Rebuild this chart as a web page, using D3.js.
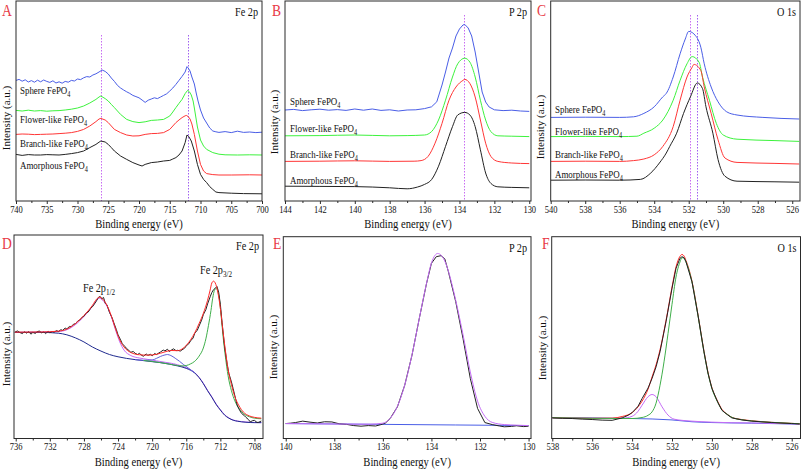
<!DOCTYPE html>
<html><head><meta charset="utf-8">
<script src="https://cdn.jsdelivr.net/npm/d3@7"></script>
<style>
body{margin:0;background:#fff}
svg{display:block}
</style>
</head><body>
<svg id="c" width="803" height="469"></svg>
<script>
// ---------------- DATA ----------------
const sampleNames = ["Sphere FePO", "Flower-like FePO", "Branch-like FePO", "Amorphous FePO"];
const panelTitles = ["Fe 2p", "P 2p", "O 1s", "Fe 2p", "P 2p", "O 1s"];
const panelLetters = ["A", "B", "C", "D", "E", "F"];
const xTitle = "Binding energy (eV)";
const yTitle = "Intensity (a.u.)";

const aTicks = [740,735,730,725,720,715,710,705,700];
const bTicks = [144,142,140,138,136,134,132,130];
const cTicks = [540,538,536,534,532,530,528,526];
const dTicks = [736,732,728,724,720,716,712,708];
const eTicks = [140,138,136,134,132,130];
const fTicks = [538,536,534,532,530,528,526];

const aRefLines = [726.1, 712.1];
const bRefLines = [133.73];
const cRefLines = [531.93, 531.5];

// Panel A – Fe 2p (stacked)
const aSphere = [[740,60.3],[739.5,60.8],[739,59.9],[738.5,60.6],[738,59.5],[737.5,60.2],[737,59.4],[736.5,60.4],[736,59.6],[735.5,60.5],[735,59.8],[734.5,59.3],[734,60.1],[733.5,59.0],[733,59.6],[732.5,58.9],[732,59.8],[731.5,59.4],[731,60.3],[730.5,60.0],[730,61.0],[729.5,60.7],[729,61.6],[728.5,62.2],[728,62.0],[727.5,63.0],[727,63.6],[726.5,64.5],[726,65.5],[725.5,64.8],[725,63.5],[724.5,61.5],[724,59.8],[723.5,57.8],[723,56.5],[722.5,55.5],[722,54.6],[721.5,53.8],[721,52.8],[720.5,52.2],[720,51.6],[719.5,50.5],[719,49.3],[718.5,50.4],[718,51.0],[717.5,51.6],[717,51.2],[716.5,52.0],[716,52.8],[715.5,53.6],[715,55.0],[714.5,56.5],[714,58.3],[713.5,60.3],[713,62.3],[712.5,64.5],[712.2,67.2],[712,66.5],[711.7,65.0],[711.4,62.0],[711,58.5],[710.7,54.0],[710.4,50.0],[710,45.5],[709.5,41.5],[709,39.0],[708.5,36.5],[708,35.0],[707.5,34.6],[707,34.3],[706,34.7],[705,34.2],[704,34.9],[703,34.3],[702,34.5],[701,34.2],[700,34.4]];
const aFlower = [[740,45.3],[739,45.0],[738,45.4],[737,45.0],[736,45.2],[735,44.9],[734,45.1],[733,45.2],[732,45.5],[731,45.9],[730,46.5],[729,47.5],[728,49.0],[727,50.8],[726.5,52.0],[726.2,52.5],[725.5,51.2],[725,50.0],[724.5,48.3],[724,46.7],[723,43.3],[722,40.8],[721,39.7],[720,39.2],[719,39.6],[718,40.3],[717,40.5],[716,40.8],[715,42.5],[714.5,44.5],[714,46.7],[713.5,48.8],[713,50.8],[712.5,53.7],[712.1,55.3],[711.8,54.6],[711.5,53.0],[711.2,50.0],[711,46.5],[710.5,37.0],[710,30.5],[709.5,27.5],[709,25.8],[708,24.2],[707,23.4],[706,23.1],[704,23.0],[702,23.1],[700,23.0]];
const aBranch = [[740,33.3],[739,33.5],[738,33.4],[737,33.2],[736,33.3],[735,33.4],[734,33.5],[733,33.7],[732,33.9],[731,34.2],[730,34.8],[729,35.8],[728,37.5],[727,39.7],[726.5,41.0],[726.2,41.3],[725.5,40.5],[725,39.2],[724.5,37.5],[724,35.8],[723,34.2],[722,33.0],[721,32.5],[720,32.6],[719,33.3],[718,33.7],[717,33.8],[716,34.2],[715,35.8],[714.5,37.5],[714,39.2],[713.5,40.5],[713,41.7],[712.5,42.6],[712.3,42.8],[712,42.2],[711.7,41.0],[711.4,38.5],[711,33.3],[710.5,25.0],[710,18.3],[709.5,15.0],[709,13.7],[708,13.2],[707,13.0],[705,13.0],[702,13.1],[700,13.0]];
const aAmorph = [[740,23.3],[739,22.8],[738,23.2],[737,23.0],[736,23.0],[735,23.2],[734,23.1],[733,23.0],[732,23.3],[731,23.7],[730,24.2],[729,25.0],[728,26.7],[727,28.3],[726.5,29.4],[726.2,30.0],[725.5,29.5],[725,28.3],[724.5,26.7],[724,25.0],[723,22.5],[722,20.8],[721,19.2],[720,18.0],[719.5,17.5],[719,18.3],[718,19.2],[717,19.5],[716,20.0],[715,20.3],[714.5,21.0],[714,21.7],[713.5,23.0],[713,25.0],[712.5,29.2],[712.2,33.0],[711.9,32.2],[711.5,30.0],[711,25.0],[710.5,18.3],[710,13.3],[709.5,10.8],[709,9.2],[708.5,7.2],[708,5.8],[707.5,4.5],[707,4.2],[705,3.9],[703,3.7],[700,3.6]];

// Panel B – P 2p (stacked)
const bSphere = [[144,45.5],[143.5,45.8],[143,45.2],[142.5,45.6],[142,45.9],[141.5,45.4],[141,45.7],[140.5,45.3],[140,46.0],[139.5,45.4],[139,46.0],[138.5,45.3],[138,45.6],[137.5,45.0],[137,45.5],[136.5,45.6],[136,46.2],[135.6,47.1],[135.3,49.6],[135.0,58.0],[134.8,64.5],[134.6,71.5],[134.4,76.5],[134.2,82.5],[134.0,86.0],[133.8,88.0],[133.7,88.3],[133.5,86.5],[133.3,82.5],[133.1,74.5],[132.9,64.5],[132.7,54.5],[132.5,49.5],[132.3,47.0],[132.0,45.6],[131.5,45.2],[131,45.4],[130.5,45.0],[130,44.8]];
const bFlower = [[144,32.6],[142,32.7],[140,33.0],[138,32.6],[137,32.7],[136,33.0],[135.6,34.7],[135.2,40.5],[134.8,50.4],[134.4,62.0],[134.1,68.6],[133.7,71.4],[133.4,69.4],[133.1,62.0],[132.8,50.4],[132.5,40.5],[132.2,34.7],[131.8,32.6],[131,32.4],[130,32.2]];
const bBranch = [[144,19.8],[142,19.9],[140,20.1],[138,19.8],[136.6,19.9],[136.2,20.2],[135.8,22.3],[135.4,28.9],[135.0,38.8],[134.6,50.4],[134.2,57.0],[133.8,60.3],[133.7,60.8],[133.4,58.7],[133.1,52.0],[132.8,40.5],[132.5,28.9],[132.2,22.3],[131.8,19.8],[131,19.0],[130,18.7]];
const bAmorph = [[144,7.4],[142,7.3],[140,7.2],[138,6.6],[137,6.1],[136.4,7.0],[136,8.3],[135.6,10.7],[135.2,17.4],[134.8,27.3],[134.4,37.2],[134.1,43.0],[133.7,44.3],[133.4,43.0],[133.1,37.2],[132.8,25.6],[132.5,14.0],[132.2,8.8],[131.8,7.1],[131,6.8],[130,6.6]];

// Panel C – O 1s (stacked)
const cSphere = [[540,41.8],[538,41.9],[536,41.8],[535.2,42.1],[534.6,43.8],[534.0,47.1],[533.5,52.1],[533.3,53.8],[532.9,62.0],[532.5,73.6],[532.2,81.0],[532.0,84.8],[531.6,82.6],[531.3,76.9],[531.1,68.6],[530.7,57.0],[530.3,49.6],[529.8,44.6],[529.2,43.0],[527.7,41.8],[525.6,41.0]];
const cFlower = [[540,32.2],[538,32.3],[536,32.2],[535,32.4],[534.6,33.9],[534.0,36.4],[533.5,40.5],[532.9,50.4],[532.5,60.3],[532.1,68.6],[531.8,72.2],[531.4,69.4],[531.2,62.0],[530.8,50.4],[530.4,38.8],[530.0,33.0],[529.2,30.9],[527,30.2],[525.6,29.8]];
const cBranch = [[540,19.8],[538,19.9],[536,19.8],[535.2,20.2],[534.6,21.0],[534.0,23.1],[533.5,27.3],[532.9,37.2],[532.5,50.4],[532.1,62.0],[531.8,66.9],[531.7,68.3],[531.3,65.3],[531.1,57.0],[530.7,43.8],[530.3,30.6],[529.9,21.5],[529.2,19.3],[527,18.8],[525.6,18.5]];
const cAmorph = [[540,10.4],[538,10.5],[536,10.4],[534.8,10.8],[534.2,14.0],[533.7,19.0],[533.3,24.0],[533.1,27.3],[532.7,33.9],[532.3,43.8],[531.9,52.1],[531.5,59.0],[531.2,56.2],[531.0,47.1],[530.6,33.9],[530.3,20.7],[529.9,12.4],[529.2,9.9],[527,9.6],[525.6,9.4]];

// Panel D – Fe 2p fitting
const dRaw = [[736.1,52.3],[735.8,52.9],[735.5,52.1],[735.2,51.6],[735,52.5],[734.7,51.8],[734.5,52.6],[734.2,51.3],[734,52.2],[733.7,51.7],[733.5,52.5],[733.2,52.9],[733,51.9],[732.7,52.4],[732.5,51.6],[732.2,52.7],[732,52.0],[731.7,52.6],[731.5,52.3],[731.2,53.1],[731,52.6],[730.7,53.5],[730.5,53.2],[730.2,54.3],[730,53.9],[729.7,55.1],[729.5,55.0],[729.2,56.3],[729,56.4],[728.7,57.9],[728.5,58.2],[728.2,59.7],[728,60.1],[727.7,61.9],[727.5,62.2],[727.2,64.1],[727,64.8],[726.7,66.6],[726.5,67.9],[726.3,69.4],[726.1,69.9],[725.9,68.7],[725.7,69.4],[725.5,66.5],[725.3,65.8],[725,62.0],[724.7,59.4],[724.5,57.0],[724.2,53.6],[724,51.0],[723.7,48.5],[723.5,46.6],[723.2,45.3],[723,44.3],[722.7,43.2],[722.5,42.4],[722.2,42.8],[722,41.9],[721.7,41.3],[721.5,41.9],[721.2,40.8],[721,40.5],[720.7,41.6],[720.5,40.9],[720.2,41.4],[720,40.7],[719.7,41.8],[719.5,41.3],[719.2,42.1],[719,42.6],[718.7,43.5],[718.5,43.1],[718.2,43.9],[718,42.8],[717.7,43.6],[717.5,44.1],[717.2,43.2],[717,43.4],[716.7,43.0],[716.5,43.6],[716.2,44.4],[716,45.6],[715.7,46.6],[715.5,48.0],[715.2,49.4],[715,51.8],[714.7,53.3],[714.5,55.3],[714.2,58.2],[714,60.9],[713.7,63.4],[713.5,66.2],[713.2,69.7],[713,71.8],[712.8,73.2],[712.6,73.9],[712.4,74.8],[712.2,72.0],[712,66.0],[711.8,57.0],[711.5,45.0],[711.2,36.5],[711,32.0],[710.7,27.8],[710.5,24.5],[710.2,19.3],[710,16.0],[709.7,13.6],[709.5,12.3],[709.2,11.3],[709,10.4],[708.7,9.3],[708.5,8.2],[708.2,8.8],[708,8.9],[707.7,7.9],[707.5,8.0],[707.2,8.6]];
const dEnvelope = [[736.1,52.3],[733,52.4],[731,52.8],[730,53.8],[729,56.5],[728,60.5],[727,65.5],[726.5,68.6],[726.2,69.5],[725.8,68.6],[725.3,65.5],[724.8,60.5],[724.3,54.0],[723.8,48.5],[723.3,45.0],[722.5,42.3],[721.5,41.2],[720.5,41.0],[719.5,41.4],[718.5,42.6],[717.8,43.3],[717,43.2],[716.5,44.0],[716,45.8],[715.5,48.5],[715,52.0],[714.5,56.5],[714,61.5],[713.5,68.0],[713.2,73.0],[713.0,76.5],[712.8,77.4],[712.6,76.5],[712.3,72.0],[712.0,64.0],[711.7,53.0],[711.4,43.0],[711.1,34.0],[710.7,26.5],[710.3,20.5],[709.8,16.0],[709.3,13.0],[708.6,11.1],[708,10.4],[707.2,10.0]];
const dPeak12 = [[736.1,52.2],[731,52.6],[730,53.5],[729,56.0],[728,60.0],[727,65.0],[726.5,68.0],[726.2,69.0],[725.8,68.0],[725.3,65.0],[724.8,60.0],[724.3,53.5],[723.8,47.5],[723.3,43.5],[722.5,40.8],[721.5,39.6],[720.5,38.9],[719.5,38.2],[718.5,37.5],[717.5,36.8],[716.5,35.6],[715.5,33.8],[715,32.4],[714.5,30.1],[714,27.2],[713.5,23.7],[713,20.5],[712.5,17.0],[712,14.2],[711.5,11.7],[711,10.1],[710.5,9.1],[710,8.6],[709,8.1],[707.2,7.8]];
const dPeak32 = [[721,38.4],[720,37.9],[719,37.3],[718,36.6],[717,35.9],[716.5,35.7],[716,35.9],[715.5,36.7],[715,38.0],[714.5,40.5],[714,44.5],[713.7,49.0],[713.4,55.5],[713.1,63.0],[712.9,69.0],[712.7,72.8],[712.5,73.8],[712.3,72.5],[712.1,68.0],[711.9,60.0],[711.7,51.0],[711.4,40.0],[711.1,31.0],[710.7,23.5],[710.3,18.5],[709.8,14.8],[709.3,12.3],[708.6,10.7],[708,10.0],[707.2,9.7]];
const dSatellite = [[722,38.8],[721,38.5],[720,38.6],[719.5,39.4],[719,40.4],[718.5,41.1],[718.2,41.3],[717.8,40.8],[717.3,39.5],[716.8,38.0],[716.3,36.3],[715.8,34.8],[715.3,33.2],[715,32.3]];
const dBackground = [[736.1,52.2],[733,52.2],[731,51.8],[730,51.0],[729,49.5],[728,47.5],[727,45.0],[726,43.0],[725,41.3],[724,40.2],[723,39.4],[722,38.8],[721,38.3],[720,37.8],[719,37.3],[718,36.6],[717,35.7],[716,34.5],[715,32.2],[714.5,30.0],[714,27.0],[713.5,23.5],[713,20.3],[712.5,16.8],[712,14.0],[711.5,11.5],[711,10.0],[710.5,9.0],[710,8.5],[709,8.0],[708,7.8],[707.2,7.8]];

// Panel E – P 2p fitting
const eRaw = [[140,7.4],[139.8,7.6],[139.6,7.9],[139.3,8.6],[139,8.1],[138.7,7.7],[138.4,8.3],[138.1,8.2],[137.8,7.3],[137.5,7.0],[137.2,6.4],[136.9,6.1],[136.6,6.4],[136.3,6.2],[136.1,6.8],[135.9,7.6],[135.7,9.9],[135.4,15.7],[135.1,26.4],[134.8,41.3],[134.5,59.5],[134.2,76.9],[134.0,86.8],[133.8,90.1],[133.6,90.6],[133.45,89.0],[133.3,82.6],[133.0,67.8],[132.7,49.6],[132.4,29.8],[132.1,14.9],[131.8,7.9],[131.5,6.9],[131.2,6.2],[131,5.8],[130.7,6.0],[130.5,6.3],[130.2,5.9],[130,6.1]];
const eFit = [[140,7.4],[139,7.3],[138,7.2],[137,7.1],[136.5,7.1],[136,7.6],[135.7,10.0],[135.4,16.0],[135.1,26.5],[134.8,41.5],[134.5,59.5],[134.2,77.0],[134.0,87.0],[133.85,90.8],[133.75,91.7],[133.6,90.8],[133.4,86.5],[133.2,78.5],[133.0,68.5],[132.7,51.5],[132.4,33.0],[132.1,18.5],[131.8,11.0],[131.5,8.0],[131,6.9],[130.5,6.6],[130,6.4]];
const eBackground = [[140,7.4],[136,7.0],[133,6.7],[130,6.4]];

// Panel F – O 1s fitting
const fRaw = [[538,10.2],[537.5,10.0],[537,9.9],[536.5,9.6],[536,9.4],[535.5,9.1],[535,9.0],[534.5,10.2],[534.2,11.5],[534,12.8],[533.7,16.0],[533.5,19.8],[533.2,25.0],[533,29.8],[532.8,35.5],[532.6,43.0],[532.3,57.9],[532,74.4],[531.8,84.3],[531.6,89.3],[531.5,90.1],[531.4,89.6],[531.3,87.6],[531,77.7],[530.7,61.2],[530.4,43.0],[530.2,32.5],[530.0,24.8],[529.7,17.8],[529.5,14.0],[529.2,11.6],[529,10.2],[528.5,9.2],[528,8.6],[527,7.9],[526,7.4],[525.6,7.2]];
const fEnvelope = [[538,10.3],[536,10.0],[535,10.1],[534.5,10.9],[534,12.8],[533.7,15.7],[533.5,18.5],[533.2,24.5],[533,30.5],[532.8,36.5],[532.6,44.0],[532.3,58.5],[532,75.0],[531.8,85.0],[531.6,90.3],[531.5,91.2],[531.4,90.5],[531.3,88.2],[531,78.0],[530.7,61.5],[530.4,43.5],[530.2,33.0],[530.0,25.2],[529.7,18.2],[529.5,14.5],[529.2,11.8],[529,10.5],[528.5,9.4],[528,8.8],[527,8.0],[526,7.5],[525.6,7.3]];
const fPeakMain = [[538,10.3],[536,10.0],[534.5,9.9],[534,9.9],[533.5,10.4],[533.2,11.5],[533,13.2],[532.8,17.5],[532.6,26.4],[532.4,38.0],[532.2,52.0],[532,66.5],[531.8,80.0],[531.6,87.5],[531.5,89.6],[531.4,89.4],[531.3,87.5],[531,77.6],[530.7,61.0],[530.4,43.0],[530.2,32.5],[530.0,24.8],[529.7,17.8],[529.5,14.2],[529.2,11.8],[529,10.5],[528.5,9.3],[528,8.7],[527,8.0],[526,7.5],[525.6,7.3]];
const fPeakHigh = [[538,10.3],[536,10.0],[535,9.9],[534.5,10.0],[534,11.0],[533.7,13.5],[533.5,16.5],[533.2,20.7],[533.0,21.8],[532.8,20.7],[532.5,15.7],[532.2,11.6],[531.9,9.6],[531.5,9.0],[531,8.6],[530,8.1],[529,7.8],[528,7.7],[527,7.5],[526,7.3],[525.6,7.2]];
const fBackground = [[538,10.3],[534,9.9],[532,9.2],[531,8.3],[530,7.9],[528,7.6],[525.6,7.1]];

// ---------------- DRAWING ----------------
const svg = d3.select("#c");
const FONT = "'Liberation Serif','Times New Roman',Times,serif";
const SX = 0.85; // horizontal condensation of the reference lettering
const COL = {blue:"#4a5ee6", green:"#3df23d", red:"#ff3636", black:"#222",
  fred:"#ff2a2a", fgreen:"#3fae4a", violet:"#c46cf5", sat:"#6060d8", navy:"#1f2a8e",
  ref1:"#c86cf2", ref2:"#a060f0", letter:"#e83a46", frame:"#2a2a2a"};

function txt(parent, x, y, s, size, anchor, rot){
  const t = parent.append("text")
    .attr("transform", `translate(${x},${y}) scale(${SX},1)` + (rot?` rotate(${rot})`:""))
    .attr("text-anchor", anchor||"start")
    .style("font-family", FONT).style("font-size", size+"px").style("fill","#111");
  if (s!==null) t.text(s);
  return t;
}

function drawPanel(p){
  const x = d3.scaleLinear().domain(p.xd).range([p.x0, p.x1]);
  const y = d3.scaleLinear().domain([0,100]).range([p.yb, p.y100]);
  const g = svg.append("g");
  const lo = Math.min(...p.xd), hi = Math.max(...p.xd);
  const step = p.ticks[0]-p.ticks[1];
  const minor = [];
  for (let i=0;i<p.ticks.length;i++){ const m = p.ticks[i]-step/2; if (m>=lo && m<=hi) minor.push(m); }
  const axMin = g.append("g").attr("transform",`translate(0,${p.yb})`)
     .call(d3.axisBottom(x).tickValues(minor).tickSize(2).tickFormat(""));
  axMin.select(".domain").remove();
  const ax = g.append("g").attr("transform",`translate(0,${p.yb})`)
     .call(d3.axisBottom(x).tickValues(p.ticks).tickSize(3).tickPadding(1.5).tickFormat(d3.format("d")));
  ax.select(".domain").remove();
  ax.selectAll("line").style("stroke", COL.frame);
  axMin.selectAll("line").style("stroke", COL.frame);
  ax.selectAll("text").style("font-family",FONT).style("font-size","10px").style("fill","#111")
    .attr("transform",`scale(${SX},1)`);

  const cid = "clip"+p.letter;
  svg.append("clipPath").attr("id",cid).append("rect")
     .attr("x",p.x0).attr("y",p.yt).attr("width",p.x1-p.x0).attr("height",p.yb-p.yt);
  const plot = g.append("g").attr("clip-path",`url(#${cid})`);

  (p.refs||[]).forEach((r,i)=>{
    const xx = Math.round(x(r))+0.5;
    plot.append("line").attr("x1",xx).attr("x2",xx).attr("y1",p.refTop).attr("y2",p.yb)
      .style("stroke", i===0?COL.ref1:COL.ref2).style("stroke-width","1")
      .style("stroke-dasharray","1.5,1.5");
  });

  p.series.forEach(s=>{
    const line = d3.line().x(d=>x(d[0])).y(d=>y(d[1]))
      .curve(s.smooth? d3.curveMonotoneX : d3.curveLinear);
    plot.append("path").datum(s.data).attr("d",line).attr("fill","none")
      .style("stroke",s.color).style("stroke-width",s.w||1).attr("stroke-linejoin","round");
  });

  g.append("rect").attr("x",p.x0).attr("y",p.yt).attr("width",p.x1-p.x0).attr("height",p.yb-p.yt)
    .attr("fill","none").style("stroke",COL.frame).style("stroke-width",1);

  txt(g, (p.x0+p.x1)/2, p.xTitleY, xTitle, 12.5, "middle");
  txt(g, p.yTitleX, p.yTitleY, yTitle, 11, "middle", -90);
  txt(g, p.x1-4, p.yt+15, p.title, 12, "end");
  txt(g, p.letterX, p.letterY, p.letter, 16, "start").style("fill", COL.letter);

  (p.labels||[]).forEach(l=>{
    const t = txt(g, l.x, l.y, null, l.size||10.5, "start");
    t.append("tspan").text(l.text);
    t.append("tspan").style("font-size",((l.size||10.5)*0.7)+"px").attr("dy",3).text(l.sub);
  });
}

const stackColors = [COL.blue, COL.green, COL.red, COL.black];
function stackLabels(x, ys){ return sampleNames.map((n,i)=>({x:x, y:ys[i], text:n, sub:"4"})); }

drawPanel({letter:panelLetters[0], title:panelTitles[0], xd:[740,700], x0:16, x1:262, yt:1, yb:201, y100:1,
  ticks:aTicks, refs:aRefLines, refTop:35, xTitleY:228, yTitleX:9.5, yTitleY:118, letterX:2, letterY:16,
  series:[aSphere,aFlower,aBranch,aAmorph].map((d,i)=>({data:d,color:stackColors[i],smooth:false})),
  labels:stackLabels(20,[94,123,147,169])});

drawPanel({letter:panelLetters[1], title:panelTitles[1], xd:[144,129.9], x0:285, x1:531, yt:1, yb:201, y100:1,
  ticks:bTicks, refs:bRefLines, refTop:15, xTitleY:228, yTitleX:278, yTitleY:122, letterX:272, letterY:16,
  series:[bSphere,bFlower,bBranch,bAmorph].map((d,i)=>({data:d,color:stackColors[i],smooth:i>0})),
  labels:stackLabels(290,[105,132,158,184])});

drawPanel({letter:panelLetters[2], title:panelTitles[2], xd:[540,525.55], x0:550.7, x1:800, yt:1, yb:201, y100:1,
  ticks:cTicks, refs:cRefLines, refTop:15, xTitleY:228, yTitleX:544, yTitleY:127, letterX:537, letterY:16,
  series:[cSphere,cFlower,cBranch,cAmorph].map((d,i)=>({data:d,color:stackColors[i],smooth:true})),
  labels:stackLabels(555,[113,135,158,178])});

drawPanel({letter:panelLetters[3], title:panelTitles[3], xd:[736.2,707.0], x0:14, x1:263, yt:235, yb:438.5, y100:235.2,
  ticks:dTicks, xTitleY:466, yTitleX:9.5, yTitleY:354, letterX:2, letterY:249,
  series:[
    {data:dPeak12,color:COL.violet,smooth:true},
    {data:dBackground,color:COL.navy,smooth:true},
    {data:dSatellite,color:COL.sat,smooth:true},
    {data:dPeak32,color:COL.fgreen,smooth:true},
    {data:dRaw,color:COL.black,smooth:false},
    {data:dEnvelope,color:COL.fred,smooth:true}],
  labels:[{x:83,y:292,text:"Fe 2p",sub:"1/2",size:12},{x:200,y:274,text:"Fe 2p",sub:"3/2",size:12}]});

drawPanel({letter:panelLetters[4], title:panelTitles[4], xd:[140.1,129.9], x0:283.3, x1:531, yt:236.7, yb:438.5, y100:236.7,
  ticks:eTicks, xTitleY:466, yTitleX:277, yTitleY:347, letterX:273, letterY:249,
  series:[
    {data:eBackground,color:COL.blue,smooth:true},
    {data:eRaw,color:COL.black,smooth:false},
    {data:eFit,color:COL.violet,smooth:true}]});

drawPanel({letter:panelLetters[5], title:panelTitles[5], xd:[538.03,525.56], x0:551.7, x1:800.5, yt:236.7, yb:438.5, y100:236.7,
  ticks:fTicks, xTitleY:466, yTitleX:546, yTitleY:348, letterX:542, letterY:249,
  series:[
    {data:fBackground,color:COL.blue,smooth:true},
    {data:fPeakHigh,color:COL.violet,smooth:true},
    {data:fEnvelope,color:COL.fred,smooth:true},
    {data:fPeakMain,color:COL.fgreen,smooth:true},
    {data:fRaw,color:COL.black,smooth:false}]});
</script>
</body></html>
